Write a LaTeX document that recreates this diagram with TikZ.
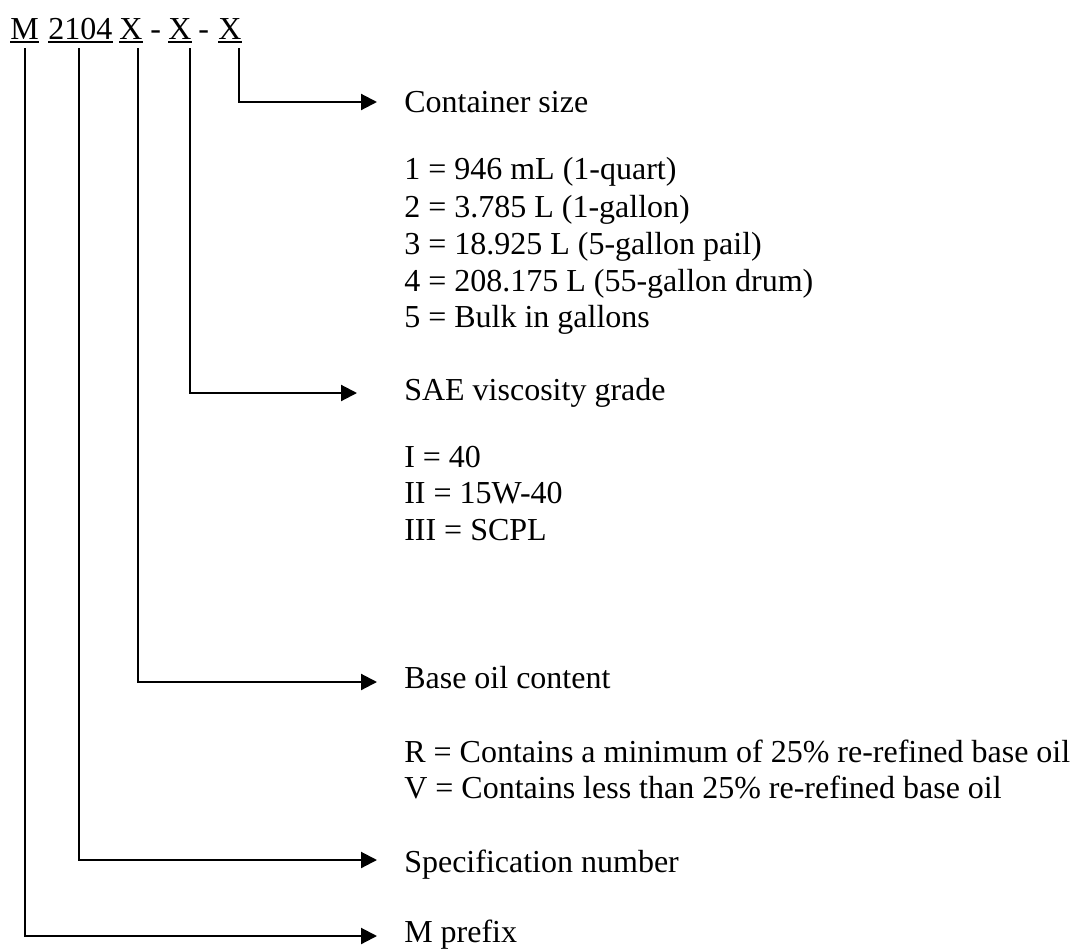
\documentclass[tikz,border=0pt]{standalone}
\usepackage{fontspec}
\setmainfont{Liberation Serif}
\usetikzlibrary{arrows.meta}
\begin{document}
\begin{tikzpicture}[x=0.75pt,y=-0.75pt,
  txt/.style={anchor=base west,inner sep=0pt,font=\fontsize{24}{28}\selectfont},
  conn/.style={line width=1.6pt,line join=miter,-{Triangle[length=12pt,width=12pt]}},
  uline/.style={line width=1.6pt}]
\useasboundingbox (0,0) rectangle (1071,950);
% header
\node[txt] (hM) at (10,39) {M};
\node[txt] (hN) at (48,39) {2104};
\node[txt] (hA) at (119,39) {X};
\node[txt] (d1) at (150,39) {-};
\node[txt] (hB) at (168,39) {X};
\node[txt] (d2) at (198,39) {-};
\node[txt] (hC) at (218,39) {X};
\foreach \n in {hM,hN,hA,hB,hC}
  \draw[uline] ([yshift=-2.4pt]\n.base west) -- ([yshift=-2.4pt]\n.base east);
% starts of connectors
\coordinate (sM) at (25,48);
\coordinate (sN) at (79,48);
\coordinate (sA) at (138,48);
\coordinate (sB) at (190,48);
\coordinate (sC) at (239,48);
% arrow tips
\coordinate (tC) at (377,102);
\coordinate (tB) at (357,393);
\coordinate (tA) at (377,682);
\coordinate (tN) at (377,860);
\coordinate (tM) at (377,936);
% text
\node[txt] (cs) at (404,112) {Container size};
\node[txt] (c1) at (404,179) {1 = 946 mL (1-quart)};
\node[txt] (c2) at (404,217) {2 = 3.785 L (1-gallon)};
\node[txt] (c3) at (404,254) {3 = 18.925 L (5-gallon pail)};
\node[txt] (c4) at (404,291) {4 = 208.175 L (55-gallon drum)};
\node[txt] (c5) at (404,327) {5 = Bulk in gallons};
\node[txt] (sae) at (404,400) {SAE viscosity grade};
\node[txt] (v1) at (404,467) {I = 40};
\node[txt] (v2) at (404,503) {II = 15W-40};
\node[txt] (v3) at (404,540) {III = SCPL};
\node[txt] (bo) at (404,688) {Base oil content};
\node[txt] (r1) at (404,762) {R = Contains a minimum of 25\% re-refined base oil};
\node[txt] (r2) at (404,798) {V = Contains less than 25\% re-refined base oil};
\node[txt] (sn) at (404,872) {Specification number};
\node[txt] (mp) at (404,942) {M prefix};
% connectors
\draw[conn] (sC) |- (tC);
\draw[conn] (sB) |- (tB);
\draw[conn] (sA) |- (tA);
\draw[conn] (sN) |- (tN);
\draw[conn] (sM) |- (tM);
\end{tikzpicture}
\end{document}
